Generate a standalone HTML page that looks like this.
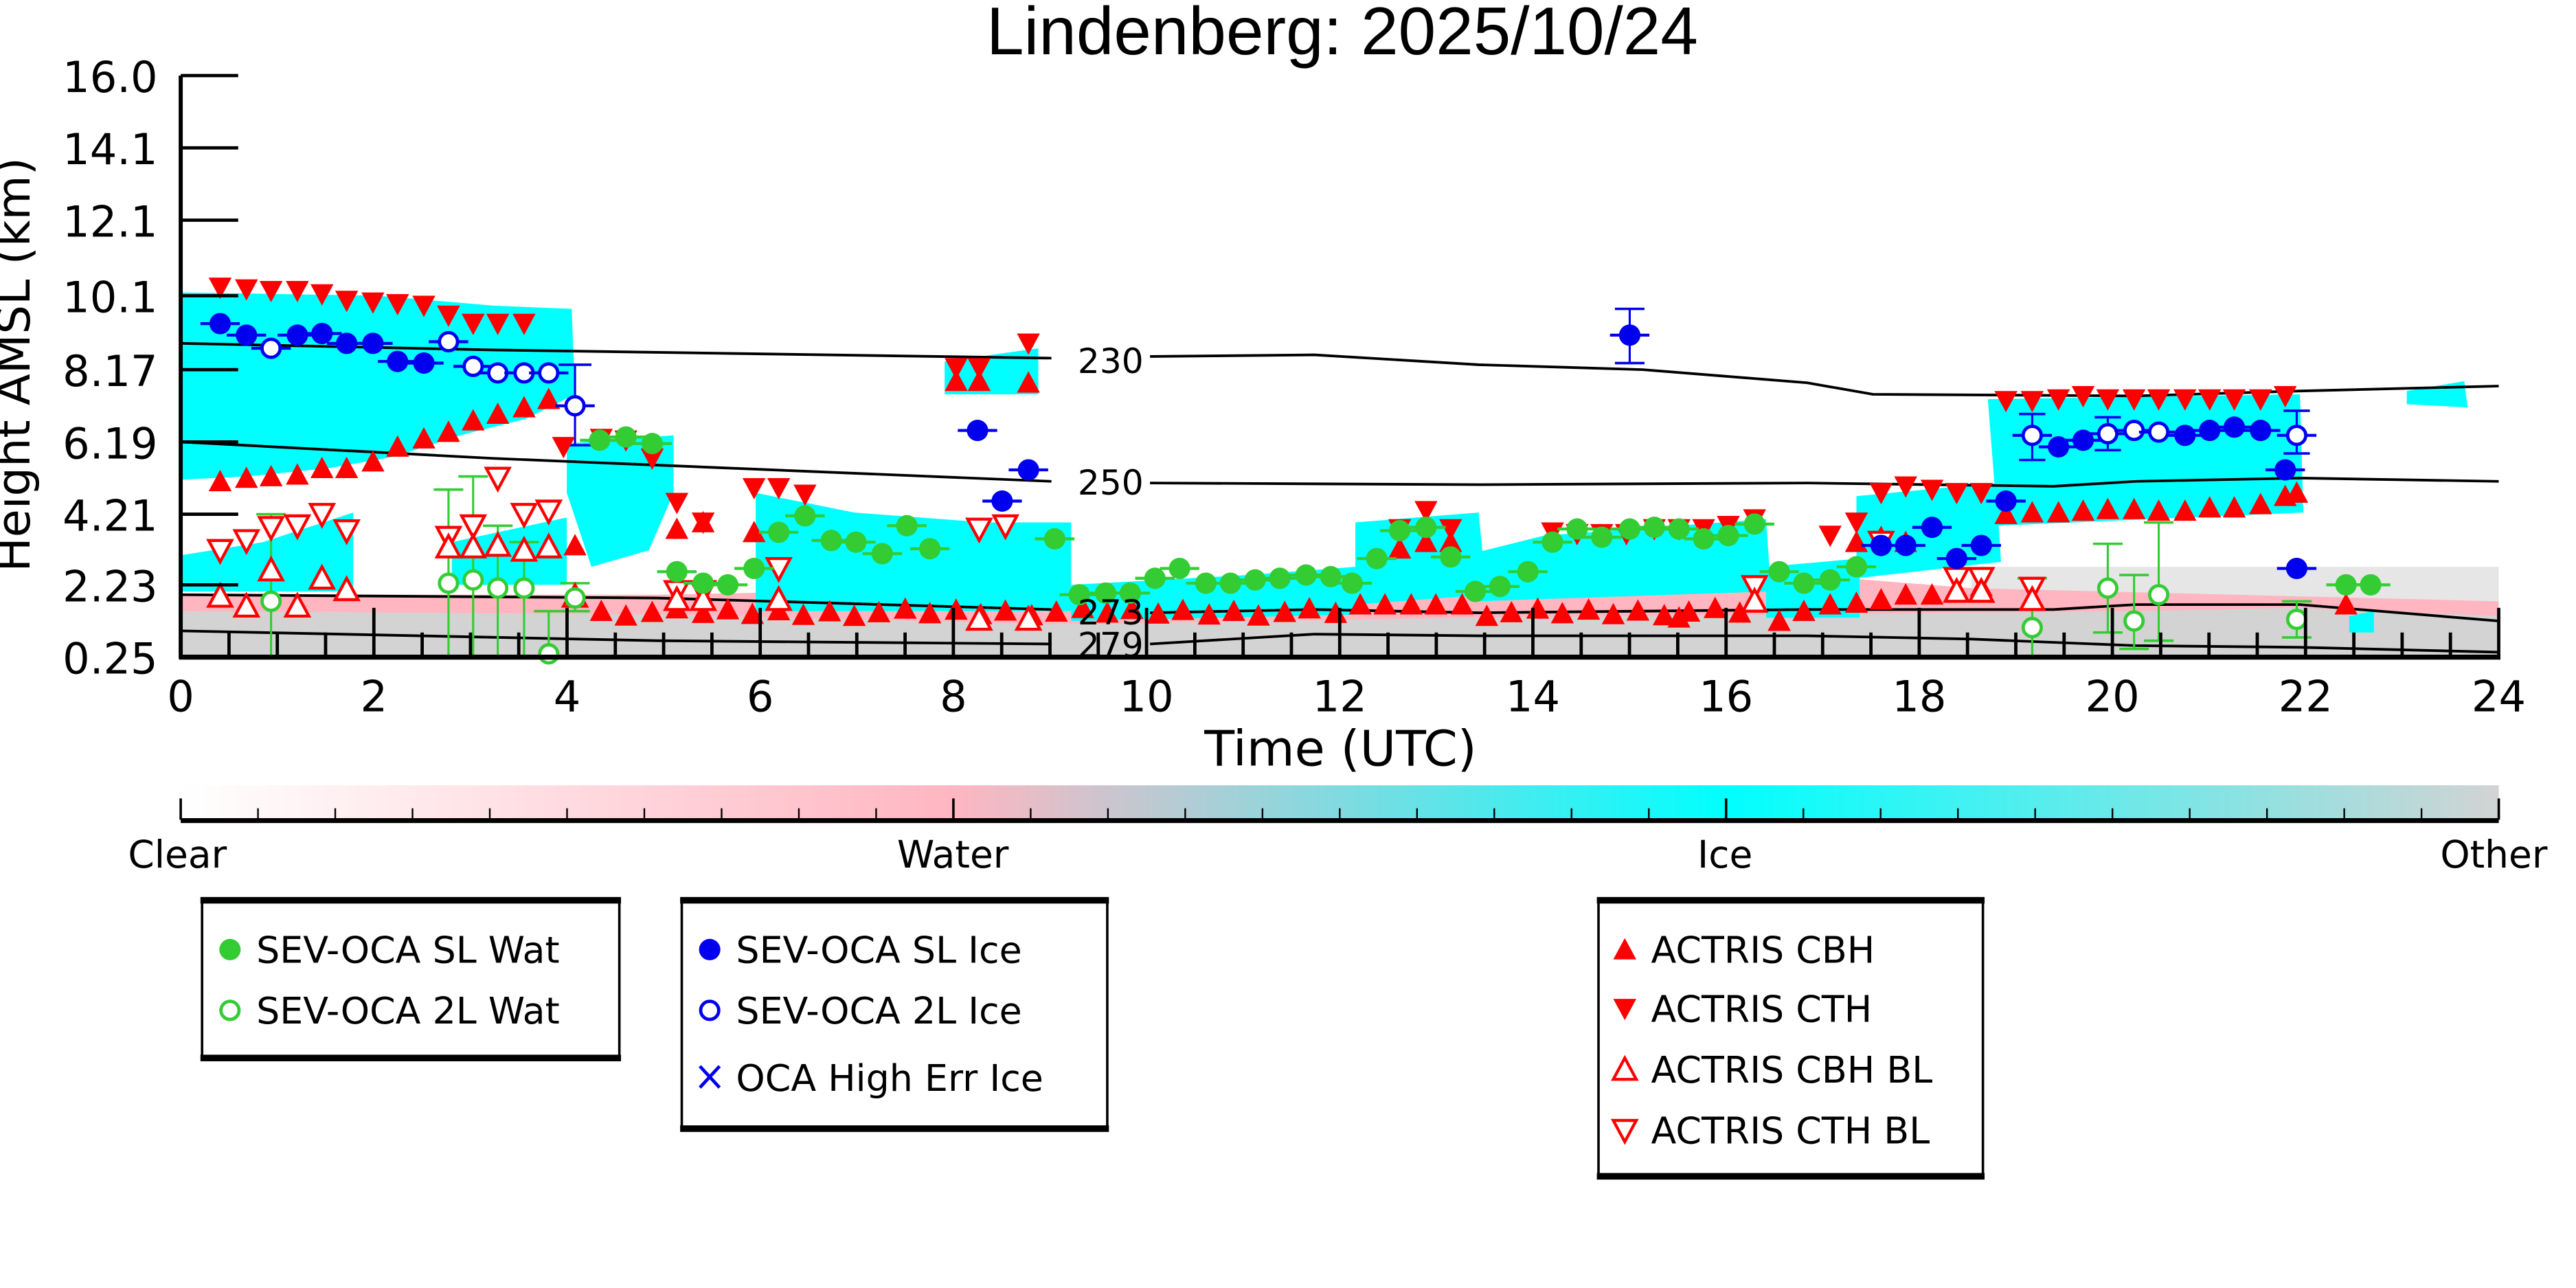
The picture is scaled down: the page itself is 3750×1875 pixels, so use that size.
<!DOCTYPE html>
<html><head><meta charset="utf-8"><style>
html,body{margin:0;padding:0;background:#fff;width:3750px;height:1875px;overflow:hidden}
svg{display:block}
text{font-family:"DejaVu Sans","Liberation Sans",sans-serif}
</style></head><body>
<svg id="s" width="3750" height="1875" viewBox="0 0 1568 784" xmlns="http://www.w3.org/2000/svg">
<defs>
<linearGradient id="cb" x1="0" x2="1">
<stop offset="0" stop-color="#ffffff"/><stop offset="0.333" stop-color="#ffb6c1"/>
<stop offset="0.667" stop-color="#00ffff"/><stop offset="1" stop-color="#d3d3d3"/>
</linearGradient>
<clipPath id="pc"><rect x="110" y="46" width="1411" height="354"/></clipPath>
</defs>
<text x="817" y="33" font-size="41" text-anchor="middle" style="font-family:'Liberation Sans',sans-serif">Lindenberg: 2025/10/24</text>
<g clip-path="url(#pc)">
<rect x="1200" y="345" width="321" height="55" fill="#e0e0e0" opacity="0.8"/>
<polygon fill="#ffb6c1" points="110,362 400,362 700,356 1000,352 1100,350 1200,358 1521,366 1521,400 110,400"/>
<polygon fill="#d3d3d3" points="110,372 400,374 640,380 900,376 1100,374 1300,372 1400,370 1521,375 1521,400 110,400"/>
<g fill="#00ffff">
<polygon points="110,178 230,180 300,186 348,188 350,240 320,255 280,265 240,278 200,285 150,290 110,292"/>
<polygon points="110,338 160,330 215,312 215,360 110,360"/>
<polygon points="275,330 345,315 345,356 275,356"/>
<polygon points="345,270 410,265 410,300 395,335 360,345 345,300"/>
<polygon points="460,300 520,312 600,318 652,318 652,372 460,372"/>
<polygon points="652,356 760,350 825,345 830,374 652,378"/>
<polygon points="825,318 900,312 905,362 825,368"/>
<polygon points="900,336 940,326 1075,316 1078,360 900,366"/>
<polygon points="1075,345 1132,340 1132,376 1075,376"/>
<polygon points="1130,302 1215,294 1218,342 1130,352"/>
<polygon points="1210,243 1400,240 1402,312 1216,320"/>
<polygon points="575,220 632,212 632,240 575,240"/>
<polygon points="1465,238 1500,232 1502,248 1465,246"/>
<polygon points="1430,375 1445,372 1445,385 1430,385"/>
</g>
<g fill="none" stroke="#000" stroke-width="1.6">
<polyline points="110,209 300,213 640,218"/>
<polyline points="700,217 800,216 900,222 1000,225 1100,233 1140,240 1300,241 1400,238 1521,235"/>
<polyline points="110,269 300,279 640,293"/>
<polyline points="700,294 900,295 1100,294 1250,296 1300,293 1400,291 1521,293"/>
<polyline points="110,362 400,364 640,371"/>
<polyline points="700,373 800,371 900,373 1100,371 1250,371 1300,368 1400,368 1521,378"/>
<polyline points="110,384 400,390 640,392"/>
<polyline points="700,392 800,386 900,387 1100,387 1200,389 1300,393 1400,394 1521,397"/>
</g>
</g>
<g id="marks"></g>
<g font-size="21" text-anchor="start">
<text x="656" y="227">230</text><text x="656" y="301">250</text>
<text x="656" y="380">273</text><text x="656" y="400">279</text>
</g>
<g stroke="#000" fill="none">
<line x1="110" y1="46" x2="110" y2="401" stroke-width="2.5"/>
<line x1="109" y1="400" x2="1522" y2="400" stroke-width="3"/>
<line x1="1521" y1="373" x2="1521" y2="400" stroke-width="1.5"/>
<g id="ticks" stroke-width="2"></g>
</g>
<g font-size="26" text-anchor="end" id="ylab"></g>
<g font-size="26" text-anchor="middle" id="xlab"></g>
<text x="816" y="466" font-size="30" text-anchor="middle">Time (UTC)</text>
<text transform="translate(18,222) rotate(-90)" font-size="28" text-anchor="middle">Height AMSL (km)</text>
<rect x="110" y="478" width="1411" height="21" fill="url(#cb)"/>
<line x1="110" y1="499.5" x2="1521" y2="499.5" stroke="#000" stroke-width="3"/>
<g id="cbt" stroke="#000" stroke-width="1"></g>
<g font-size="23" text-anchor="middle">
<text x="108" y="528">Clear</text><text x="580" y="528">Water</text><text x="1050" y="528">Ice</text><text x="1518" y="528">Other</text>
</g>
<g fill="#fff" stroke="#000">
<rect x="123" y="547" width="254" height="98" stroke-width="1.5"/>
<rect x="415" y="547" width="259" height="141" stroke-width="1.5"/>
<rect x="973" y="547" width="234" height="170" stroke-width="1.5"/>
</g>
<g fill="#000">
<rect x="122" y="546" width="256" height="4"/><rect x="122" y="642" width="256" height="4"/>
<rect x="414" y="546" width="261" height="4"/><rect x="414" y="685" width="261" height="4"/>
<rect x="972" y="546" width="236" height="4"/><rect x="972" y="714" width="236" height="4"/>
</g>
<g font-size="22.5">
<text x="156" y="586">SEV-OCA SL Wat</text><text x="156" y="623">SEV-OCA 2L Wat</text>
<text x="448" y="586">SEV-OCA SL Ice</text><text x="448" y="623">SEV-OCA 2L Ice</text><text x="448" y="664">OCA High Err Ice</text>
<text x="1005" y="586">ACTRIS CBH</text><text x="1005" y="622">ACTRIS CTH</text><text x="1005" y="659">ACTRIS CBH BL</text><text x="1005" y="696">ACTRIS CTH BL</text>
</g>
<g id="leg"></g>
</svg>
<script>
var NS="http://www.w3.org/2000/svg";
function el(p,t,a){var e=document.createElementNS(NS,t);for(var k in a)e.setAttribute(k,a[k]);p.appendChild(e);return e;}
var T=document.getElementById('ticks');
var yv=["16.0","14.1","12.1","10.1","8.17","6.19","4.21","2.23","0.25"],yp=[46,90,134,180,225,269,313,356,400];
var YL=document.getElementById('ylab');
for(var i=0;i<9;i++){el(T,'line',{x1:110,x2:145,y1:yp[i],y2:yp[i]});var t=el(YL,'text',{x:96,y:yp[i]+10});t.textContent=yv[i];}
var XL=document.getElementById('xlab');
for(var h=0;h<=48;h++){var x=110+h*0.5*58.79;var big=h%4==0;el(T,'line',{x1:x,x2:x,y1:400,y2:big?370:385});
 if(big){var t=el(XL,'text',{x:x,y:433});t.textContent=h/2;}}
var C=document.getElementById('cbt');
for(var i=0;i<=30;i++){var x=110+i*1411/30;el(C,'line',{x1:x,x2:x,y1:499,y2:i%10==0?486:492,'stroke-width':i%10==0?1.5:1});}
var M=document.getElementById('marks');
function up(x,y,f,c){el(M,'path',{d:'M'+x+','+(y-7)+'l7,13h-14z',fill:f?c:'#fff',stroke:c,'stroke-width':f?0:1.8});}
function dn(x,y,f,c){el(M,'path',{d:'M'+x+','+(y+7)+'l7,-13h-14z',fill:f?c:'#fff',stroke:c,'stroke-width':f?0:1.8});}
function ci(x,y,f,c){el(M,'circle',{cx:x,cy:y,r:f?6.5:5.5,fill:f?c:'#fff',stroke:c,'stroke-width':f?0:2});}
function eb(x,y1,y2,c,w){el(M,'line',{x1:x,x2:x,y1:y1,y2:y2,stroke:c,'stroke-width':1.3});
 el(M,'line',{x1:x-w,x2:x+w,y1:y1,y2:y1,stroke:c,'stroke-width':1.5});el(M,'line',{x1:x-w,x2:x+w,y1:y2,y2:y2,stroke:c,'stroke-width':1.5});}
function hb(x,y,c){el(M,'line',{x1:x-12,x2:x+12,y1:y,y2:y,stroke:c,'stroke-width':1.8});}
var R='#ff0000',G='#33cc33',B='#0000ee';
[[165,313,400],[273,298,400],[288,290,400],[303,320,400],[319,330,400],[350,355,372],[334,372,400],[1237,352,400],[1283,331,385],[1299,350,395],[1314,318,390],[1398,366,388]].forEach(function(a){eb(a[0],a[1],a[2],G,9);});
eb(992,188,221,B,9);eb(350,222,271,B,10);eb(1237,252,280,B,8);eb(1283,254,274,B,8);eb(1398,250,276,B,8);
[[134,175],[150,176],[165,177],[181,177],[196,179],[211,183],[227,184],[242,185],[258,186],[273,192],[288,197],[303,197],[319,197],
[343,272],[366,267],[381,268],[397,279],[412,306],[428,318],[459,297],[474,297],[490,301],
[582,224],[596,224],[626,209],[868,311],[852,322],[883,322],
[945,324],[960,325],[975,325],[990,325],[1007,322],[1022,322],[1037,322],[1052,320],[1068,316],
[1114,326],[1130,318],[1145,300],[1160,296],[1176,298],[1191,300],[1206,300],
[1221,244],[1237,244],[1253,243],[1268,241],[1283,243],[1299,243],[1314,243],[1330,243],[1345,243],[1360,243],[1376,243],[1391,241]
].forEach(function(a){dn(a[0],a[1],1,R);});
[[134,293],[150,291],[165,290],[181,289],[196,285],[211,285],[227,281],[242,272],[258,267],[273,263],[288,256],[303,252],[319,248],[334,243],
[350,332],[412,322],[428,318],[459,324],[582,232],[596,232],[626,233],[852,334],[868,330],[883,330],
[1221,313],[1237,312],[1253,312],[1268,311],[1283,310],[1299,310],[1314,311],[1330,311],[1345,309],[1360,309],[1376,307],[1391,302],[1398,300],
[1130,330],[1145,327],[1160,330],[1428,368]].forEach(function(a){up(a[0],a[1],1,R);});
for(var x=366;x<=1070;x+=15.4){var y=372+((x*7)%5)-2;if(x>820&&x<900)y=368;up(Math.round(x),y,1,R);}
[[1083,378],[1098,372],[1114,368],[1130,367],[1145,365],[1160,362],[1176,362],[1191,358],[1206,357],[1022,376],[1083,378]].forEach(function(a){up(a[0],a[1],1,R);});
[[134,335],[150,329],[165,321],[181,320],[196,313],[211,323],[273,327],[288,320],[303,291],[319,313],[334,311],[412,360],[428,360],[474,346],[596,322],[612,320],[1068,357],[1145,330],[1191,352],[1206,352],[1237,358]].forEach(function(a){dn(a[0],a[1],0,R);});
[[134,363],[150,369],[165,347],[181,369],[196,352],[211,359],[273,333],[288,333],[303,332],[319,335],[334,333],[350,363],[412,365],[428,365],[474,365],[596,377],[626,377],[1068,366],[1191,360],[1206,360],[1237,365]].forEach(function(a){up(a[0],a[1],0,R);});
[[365,268],[381,266],[397,270],[412,348],[428,355],[443,356],[459,346],[474,324],[490,314],[506,329],[521,330],[537,337],[552,320],[566,334],[642,328],
[657,362],[673,361],[688,361],[703,352],[718,346],[734,355],[749,355],[764,353],[779,352],[795,350],[810,351],[823,355],
[838,340],[852,323],[868,321],[883,339],[898,360],[913,357],[930,348],
[945,330],[960,322],[975,327],[992,322],[1007,321],[1022,322],[1037,328],[1052,326],[1068,319],
[1083,348],[1098,355],[1114,353],[1130,345],[1428,356],[1443,356]].forEach(function(a){hb(a[0],a[1],G);ci(a[0],a[1],1,G);});
[[165,366],[273,355],[288,353],[303,358],[319,358],[350,364],[334,398],[1237,382],[1283,358],[1299,378],[1314,362],[1398,377]].forEach(function(a){ci(a[0],a[1],0,G);});
[[134,197],[150,204],[181,204],[196,203],[211,209],[227,209],[242,220],[258,221],[595,262],[610,305],[626,286],[992,204],
[1253,272],[1268,268],[1330,265],[1345,262],[1360,260],[1376,262],[1391,286],[1398,346],[1221,305],[1206,332],[1191,340],[1176,321],[1160,332],[1145,332]].forEach(function(a){hb(a[0],a[1],B);ci(a[0],a[1],1,B);});
[[165,212],[273,208],[288,223],[303,227],[319,227],[334,227],[350,247],[1237,265],[1283,264],[1299,262],[1314,263],[1398,265]].forEach(function(a){hb(a[0],a[1],B);ci(a[0],a[1],0,B);});
var L=document.getElementById('leg');M=L;
ci(140,578,1,G);ci(140,615,0,G);ci(432,578,1,B);ci(432,615,0,B);
el(L,'path',{d:'M426,649l12,13M438,649l-12,13',stroke:B,'stroke-width':2});
up(989,578,1,R);dn(989,614,1,R);up(989,651,0,R);dn(989,688,0,R);
</script>
</body></html>
